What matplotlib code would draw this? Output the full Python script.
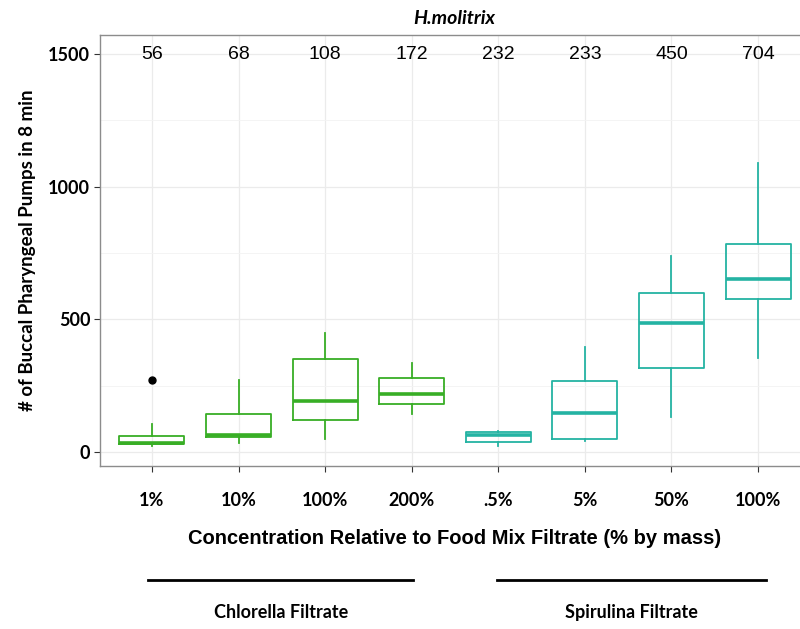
import numpy as np
import matplotlib.pyplot as plt
import matplotlib.transforms as mtransforms

# data
cats = ['1%', '10%', '100%', '200%', '.5%', '5%', '50%', '100%']
groups = ['Chlorella Filtrate'] * 4 + ['Spirulina Filtrate'] * 4
counts = [56, 68, 108, 172, 232, 233, 450, 704]
q1 = [29, 55, 122, 180, 38, 50, 315, 578]
med = [35, 65, 192, 217, 63, 146, 486, 653]
q3 = [61, 143, 350, 278, 74, 266, 598, 785]
wlo = [24, 33, 50, 144, 23, 41, 132, 355]
whi = [106, 271, 447, 337, 79, 395, 738, 1090]
outliers = [[270], [], [], [], [], [], [], []]

col = {'Chlorella Filtrate': '#38ae25', 'Spirulina Filtrate': '#24b3a3'}

fig = plt.figure(figsize=(8, 6.29), dpi=100)
ax = fig.add_axes([0.125, 0.2591, 0.8875, 0.6853])

pos = np.arange(1, len(cats) + 1)
for i in range(len(cats)):
    c = col[groups[i]]
    st = [{'med': med[i], 'q1': q1[i], 'q3': q3[i], 'whislo': wlo[i],
           'whishi': whi[i], 'fliers': outliers[i]}]
    ax.bxp(st, positions=[pos[i]], widths=0.75, showcaps=False,
           boxprops=dict(color=c, lw=1.3),
           whiskerprops=dict(color=c, lw=1.3),
           medianprops=dict(color=c, lw=2.6),
           flierprops=dict(marker='o', markerfacecolor='black',
                           markeredgecolor='black', markersize=5))

for i in range(len(cats)):
    ax.text(pos[i], 1500, str(counts[i]), ha='center', va='center',
            fontsize=14, family='Liberation Sans')

ax.set_xlim(0.4, 8.6)
ax.set_ylim(-53, 1572)
ax.set_xticks(pos)
ax.set_xticklabels(cats, fontsize=13, fontweight='bold', family='Lato')
ax.set_yticks([0, 500, 1000, 1500])
ax.set_yticklabels(['0', '500', '1000', '1500'], fontsize=13,
                   fontweight='bold', family='Lato')
ax.set_yticks([250, 750, 1250], minor=True)
ax.tick_params(axis='x', which='major', length=4, color='#333333', pad=15)
ax.tick_params(axis='y', which='major', length=4, color='#333333', pad=3)
ax.tick_params(axis='y', which='minor', length=0)
ax.grid(True, which='major', color='#ebebeb', lw=0.9)
ax.grid(True, which='minor', axis='y', color='#f3f3f3', lw=0.6)
ax.set_axisbelow(True)
for s in ax.spines.values():
    s.set_color('#8c8c8c')
    s.set_linewidth(1.0)

ax.set_xlabel('Concentration Relative to Food Mix Filtrate (% by mass)',
              fontsize=14.5, fontweight='bold', family='Liberation Sans',
              labelpad=14)
ax.set_ylabel('# of Buccal Pharyngeal Pumps in 8 min', fontsize=13.5,
              fontweight='bold', family='Lato', labelpad=9)
ax.set_title('H.molitrix', fontsize=14, fontweight='bold', style='italic',
             family='Lato', pad=8, x=(454 - 100) / 710)

# group brackets under the axis
tr = mtransforms.blended_transform_factory(ax.transData, ax.transAxes)
for g, (a, b) in [('Chlorella Filtrate', (0.96, 4.02)),
                  ('Spirulina Filtrate', (4.99, 8.09))]:
    ax.plot([a, b], [-0.2645, -0.2645], color='black', lw=2,
            transform=tr, clip_on=False)
    ax.text((a + b) / 2, -0.339, g, transform=tr, ha='center', va='center',
            fontsize=13, fontweight='bold', family='Lato')

fig.savefig('out.png', dpi=100)
